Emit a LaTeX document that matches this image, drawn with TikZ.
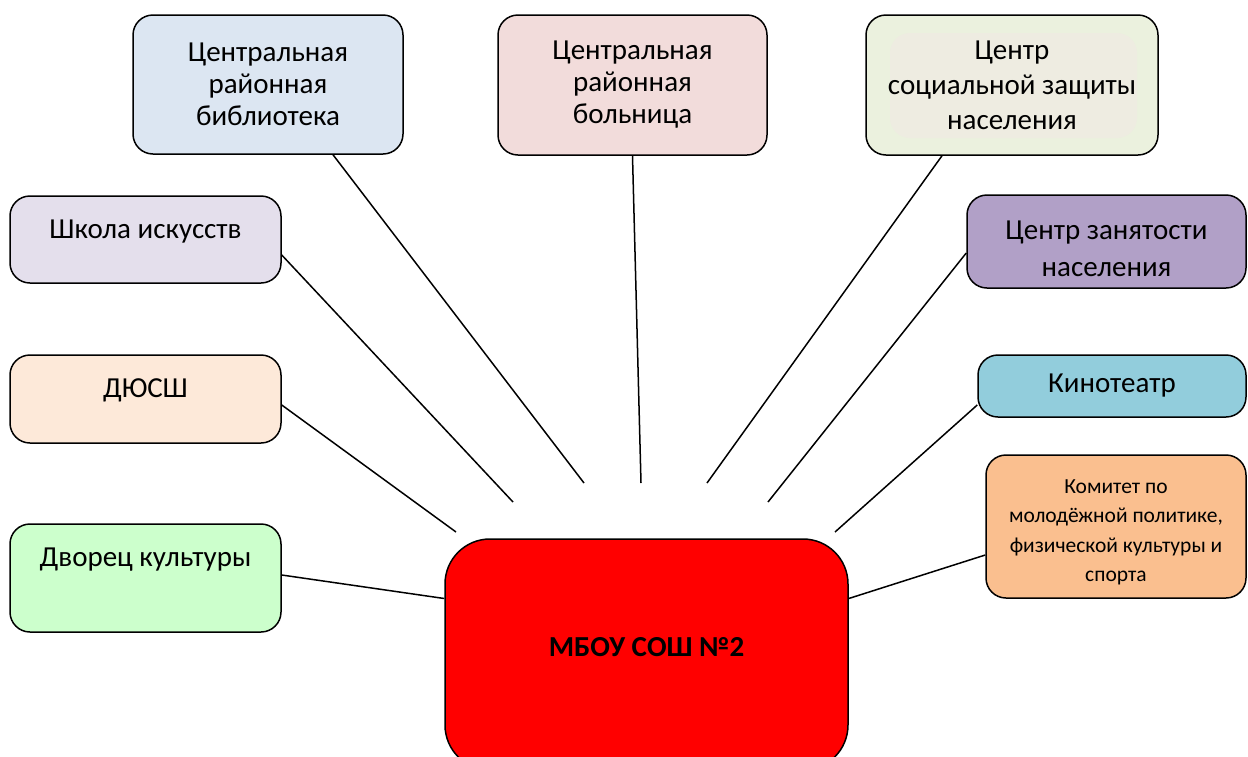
\documentclass[tikz,border=0pt]{standalone}
\usepackage{fontspec}
\setmainfont{Carlito}
\usetikzlibrary{positioning}

\definecolor{libblue}{HTML}{DCE6F2}
\definecolor{hosppink}{HTML}{F2DCDB}
\definecolor{socgreen}{HTML}{EBF1DE}
\definecolor{socinner}{HTML}{EEECE1}
\definecolor{artlilac}{HTML}{E4DFEC}
\definecolor{sportpeach}{HTML}{FDE9D9}
\definecolor{dkgreen}{HTML}{CCFFCC}
\definecolor{jobviolet}{HTML}{B1A0C7}
\definecolor{kinoblue}{HTML}{92CDDC}
\definecolor{komorange}{HTML}{FABF8F}

\begin{document}
\begin{tikzpicture}[x=1pt, y=-1pt,
box/.style={draw, line width=1.5pt, rounded corners=20pt, inner sep=0pt,
  align=center, font=\fontsize{29}{32}\selectfont},
every label/.style={align=center, font=\fontsize{29}{32}\selectfont},
link/.style={line width=1.5pt}]
\useasboundingbox (0,0) rectangle (1248,756);

% top row
\node [box, fill=libblue, minimum width=270pt, minimum height=139pt] (lib)
  at (268,84.5) {Центральная\\районная\\библиотека};
\node [box, fill=hosppink, minimum width=269pt, minimum height=140pt] (hosp)
  at (632.5,85) {Центральная\\районная\\больница};
\node [box, fill=socgreen, minimum width=292pt, minimum height=140pt,
  font=\fontsize{29}{35}\selectfont,
  path picture={\fill [socinner]
    ([xshift=24pt,yshift=-18pt]path picture bounding box.north west) rectangle
    ([xshift=-21pt,yshift=17pt]path picture bounding box.south east);}] (soc)
  at (1012,85) {Центр\\социальной защиты\\населения};

% left column
\node [box, fill=artlilac, minimum width=271pt, minimum height=87pt,
  label={[yshift=8pt]center:Школа искусств}] (art) at (145.5,239.5) {};
\node [box, fill=sportpeach, minimum width=271pt, minimum height=88pt,
  label={[yshift=9pt]center:ДЮСШ}] (sport) at (145.5,399) {};
\node [box, fill=dkgreen, minimum width=271pt, minimum height=108pt,
  label={[yshift=18pt]center:Дворец культуры}] (dk) at (145.5,578) {};

% right column
\node [box, fill=jobviolet, minimum width=279pt, minimum height=93pt,
  label={[yshift=-7pt, font=\fontsize{29}{37}\selectfont]center:Центр занятости\\населения}] (job)
  at (1106.5,241.5) {};
\node [box, fill=kinoblue, minimum width=268pt, minimum height=62pt] (kino)
  at (1112,386) {Кинотеатр};
\node [box, fill=komorange, minimum width=260pt, minimum height=143pt,
  label={[yshift=-6pt, font=\fontsize{21.5}{29.5}\selectfont]center:Комитет по\\молодёжной политике,\\физической культуры и\\спорта}] (kom)
  at (1116,526.5) {};

% hub
\node [box, fill=red, rounded corners=45pt, minimum width=403pt, minimum height=231pt,
  label={[yshift=7pt, font=\fontsize{29}{34}\selectfont\bfseries]center:МБОУ СОШ №2}] (school)
  at (646.5,654.5) {};

\coordinate (t_art) at (513,502);
\coordinate (t_sport) at (456,532);
\coordinate (t_lib) at (584,483);
\coordinate (t_hosp) at (641,483);
\coordinate (t_soc) at (707,483);
\coordinate (t_job) at (768,502);
\coordinate (t_kino) at (835,532);

\draw [link] ([yshift=-15.5pt]art.east) -- (t_art);
\draw [link] ([yshift=-6pt]sport.east) -- (t_sport);
\draw [link] ([yshift=3pt]dk.east) -- ([yshift=56pt]school.west);
\draw [link] ([xshift=65pt]lib.south) -- (t_lib);
\draw [link] (hosp.south) -- (t_hosp);
\draw [link] ([xshift=-70pt]soc.south) -- (t_soc);
\draw [link] ([yshift=-11.5pt]job.west) -- (t_job);
\draw [link] ([yshift=-19pt]kino.west) -- (t_kino);
\draw [link] ([yshift=-28.5pt]kom.west) -- ([yshift=56pt]school.east);

\end{tikzpicture}
\end{document}
